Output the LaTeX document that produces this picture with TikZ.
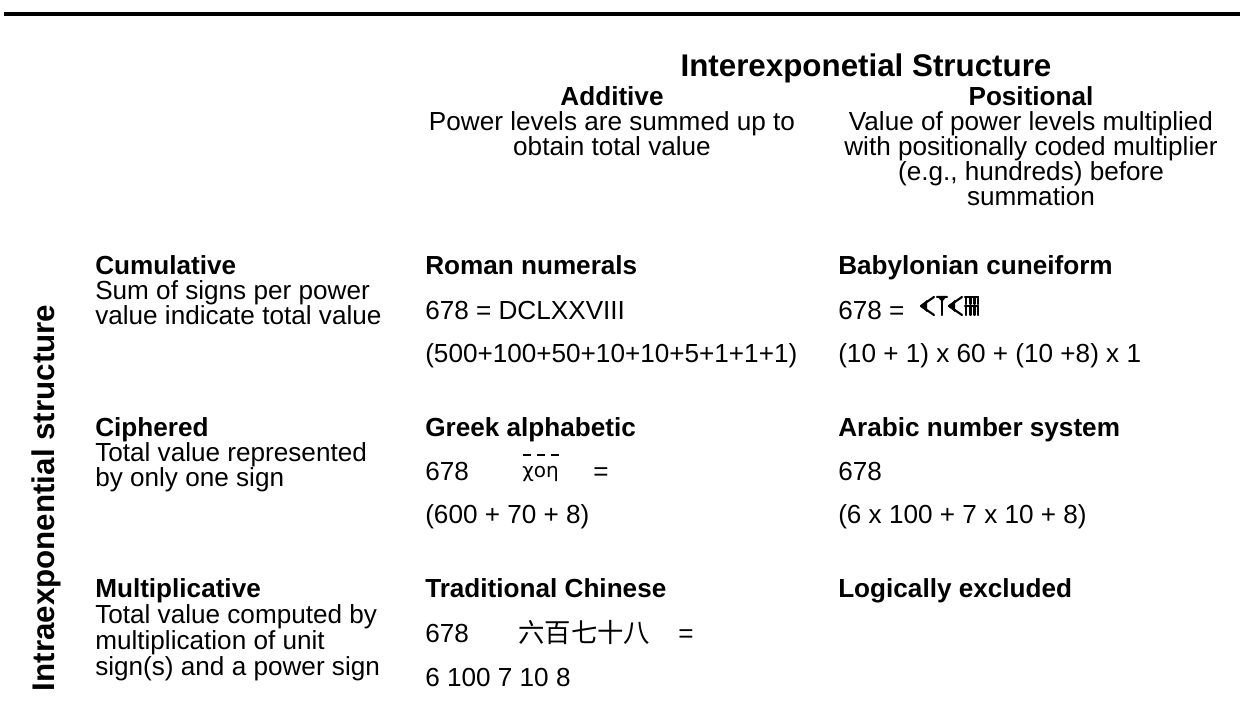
\documentclass[tikz,border=0pt]{standalone}
\usepackage{fontspec}
\setmainfont{Liberation Sans}
\newfontfamily\cjkfont{Noto Sans CJK SC}
\newfontfamily\grkfont{DejaVu Sans}
\begin{document}
\begin{tikzpicture}[x=0.75pt,y=-0.75pt,
  body/.style={font=\fontsize{19.6}{22}\selectfont, inner sep=0pt, anchor=base west},
  head/.style={font=\fontsize{19.6}{22}\selectfont\bfseries, inner sep=0pt, anchor=base west},
  bodyc/.style={body, anchor=base},
  headc/.style={head, anchor=base},
  big/.style={font=\fontsize{23.5}{28}\selectfont\bfseries, inner sep=0pt, anchor=base},
  wedge/.style={line width=1.6pt, line cap=round, line join=round},
  rule/.style={line width=3pt}]
\useasboundingbox (0,0) rectangle (1240,727);
% top rule
\coordinate (rl) at (4,14);
\coordinate (rr) at (1240,14);
\draw[rule] (rl) -- (rr);
% titles
\node[big] (title) at (866,77) {Interexponetial Structure};
\node[big, rotate=90] (vtitle) at (54,498) {Intraexponential structure};
% column headings
\node[headc] (add) at (612,106) {Additive};
\node[bodyc] (add1) at (612,131) {Power levels are summed up to};
\node[bodyc] (add2) at (612,156) {obtain total value};
\node[headc] (pos) at (1031,106) {Positional};
\node[bodyc] (pos1) at (1031,131) {Value of power levels multiplied};
\node[bodyc] (pos2) at (1031,156) {with positionally coded multiplier};
\node[bodyc] (pos3) at (1031,181) {(e.g., hundreds) before};
\node[bodyc] (pos4) at (1031,206) {summation};
% row 1
\node[head] (cum) at (95,275) {Cumulative};
\node[body] (cum1) at (95,300) {Sum of signs per power};
\node[body] (cum2) at (95,325) {value indicate total value};
\node[head] (rom) at (425,275) {Roman numerals};
\node[body] (rom1) at (425,320) {678 = DCLXXVIII};
\node[body] (rom2) at (425,363) {(500+100+50+10+10+5+1+1+1)};
\node[head] (bab) at (838,275) {Babylonian cuneiform};
\node[body] (bab1) at (838,320) {678 =};
\node[body] (bab2) at (838,363) {(10 + 1) x 60 + (10 +8) x 1};
% cuneiform signs
\draw[wedge] (934,297) -- (921,306) -- (934,315);
\fill (920,306) -- (927,300) -- (927,312) -- cycle;
\draw[wedge] (937,297) -- (947,297);
\draw[wedge] (942,297) -- (942,315);
\fill (937,296) -- (947,296) -- (942,302) -- cycle;
\draw[wedge] (962,297) -- (949,306) -- (962,315);
\fill (948,306) -- (955,300) -- (955,312) -- cycle;
\draw[wedge] (965,297) -- (978,297);
\draw[wedge] (965,306) -- (978,306);
\foreach \xx in {966,970.5,974.5,978} {
  \draw[wedge] (\xx,297) -- (\xx,304);
  \draw[wedge] (\xx,306) -- (\xx,315);
}
% row 2
\node[head] (cip) at (95,437) {Ciphered};
\node[body] (cip1) at (95,462) {Total value represented};
\node[body] (cip2) at (95,487) {by only one sign};
\node[head] (grk) at (425,437) {Greek alphabetic};
\node[body] (grk1) at (425,480) {678};
\node[font=\grkfont\fontsize{15}{18}\selectfont, inner sep=0pt, anchor=base west] (grkw) at (522,478) {χοη};
\draw[line width=1pt] (523,455) -- (531,455);
\draw[line width=1pt] (537,455) -- (545,455);
\draw[line width=1pt] (551,455) -- (559,455);
\node[body] (grkeq) at (593,480) {=};
\node[body] (grk2) at (425,523) {(600 + 70 + 8)};
\node[head] (ara) at (838,437) {Arabic number system};
\node[body] (ara1) at (838,480) {678};
\node[body] (ara2) at (838,523) {(6 x 100 + 7 x 10 + 8)};
% row 3
\node[head] (mul) at (95,597) {Multiplicative};
\node[body] (mul1) at (95,623) {Total value computed by};
\node[body] (mul2) at (95,649) {multiplication of unit};
\node[body] (mul3) at (95,675) {sign(s) and a power sign};
\node[head] (chi) at (425,597) {Traditional Chinese};
\node[body] (chi1) at (425,642) {678};
\node[font=\cjkfont\fontsize{19.8}{22}\selectfont, inner sep=0pt, anchor=base west] (chiw) at (518,642) {六百七十八};
\node[body] (chieq) at (678,642) {=};
\node[body] (chi2) at (425,686) {6 100 7 10 8};
\node[head] (log) at (838,597) {Logically excluded};
\end{tikzpicture}
\end{document}
